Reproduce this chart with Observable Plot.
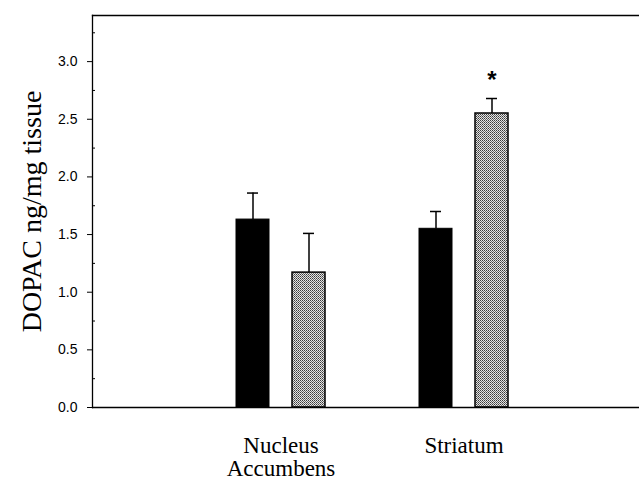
<!DOCTYPE html>
<html>
<head>
<meta charset="utf-8">
<script src="https://cdn.jsdelivr.net/npm/d3@7"></script>
<script src="https://cdn.jsdelivr.net/npm/@observablehq/plot@0.6"></script>
<style>
  html, body { margin: 0; padding: 0; background: #fff; }
</style>
</head>
<body>
<div id="chart"></div>
<script>
// ---- data ----
const regions = ["Nucleus Accumbens", "Striatum"];
const regionLabels = ["Nucleus\nAccumbens", "Striatum"];
const controlMean = [1.63, 1.55];
const controlSem = [0.23, 0.15];
const treatedMean = [1.17, 2.55];
const treatedSem = [0.34, 0.13];
const significant = [false, true];
const yMajorTicks = [0, 0.5, 1.0, 1.5, 2.0, 2.5, 3.0];
const yMinorTicks = [0.25, 0.75, 1.25, 1.75, 2.25, 2.75, 3.25];
const yDomain = [0, 3.4];
const yLabel = "DOPAC ng/mg tissue";

const control = regions.map((r, i) => ({region: r, mean: controlMean[i], top: controlMean[i] + controlSem[i]}));
const treated = regions.map((r, i) => ({region: r, mean: treatedMean[i], top: treatedMean[i] + treatedSem[i], sig: significant[i]}));
const labelOf = new Map(regions.map((r, i) => [r, regionLabels[i]]));

const serif = "Liberation Serif, Times New Roman, serif";
const sans = "Liberation Sans, Arial, sans-serif";

const plot = Plot.plot({
  width: 639,
  height: 481,
  marginLeft: 92,
  marginRight: 0,
  marginTop: 15,
  marginBottom: 74,
  style: {fontFamily: sans, color: "#000", background: "#fff"},
  x: {domain: regions, paddingInner: 0.293, paddingOuter: 0.633, align: 0.528, axis: null},
  y: {domain: yDomain, axis: null},
  marks: [
    Plot.frame({anchor: "left", stroke: "#000", strokeWidth: 1.3}),
    Plot.frame({anchor: "top", stroke: "#000", strokeWidth: 1.3}),
    // bars
    Plot.barY(control, {x: "region", y: "mean", fill: "#000", stroke: "#000", strokeWidth: 1, insetLeft: 20, insetRight: 76}),
    Plot.barY(treated, {x: "region", y: "mean", fill: "url(#stipple)", stroke: "#000", strokeWidth: 1.5, insetLeft: 76, insetRight: 20}),
    // error bars
    Plot.ruleX(control, {x: "region", y1: "mean", y2: "top", dx: -28, stroke: "#000", strokeWidth: 1.5}),
    Plot.ruleX(treated, {x: "region", y1: "mean", y2: "top", dx: 28, stroke: "#000", strokeWidth: 1.5}),
    Plot.tickY(control, {x: "region", y: "top", insetLeft: 31, insetRight: 87, stroke: "#000", strokeWidth: 1.5}),
    Plot.tickY(treated, {x: "region", y: "top", insetLeft: 87, insetRight: 31, stroke: "#000", strokeWidth: 1.5}),
    // significance marker
    Plot.text(treated.filter(d => d.sig), {x: "region", y: "top", text: () => "*", dx: 28, dy: -18, fontSize: 24, fontWeight: "bold", fontFamily: sans, fill: "#000"}),
    // baseline
    Plot.ruleY([0], {stroke: "#000", strokeWidth: 1.3}),
    // y axis ticks
    Plot.axisY({ticks: yMajorTicks, tickSize: 5, tickFormat: () => "", label: null, stroke: "#000"}),
    Plot.axisY({ticks: yMinorTicks, tickSize: 3, dx: 3, tickFormat: () => "", label: null, stroke: "#000"}),
    // y tick labels
    Plot.text(yMajorTicks, {y: d => d, frameAnchor: "left", dx: -15, textAnchor: "end", lineAnchor: "middle", text: d3.format(".1f"), fontSize: 14, fontFamily: sans, fill: "#000"}),
    // x category labels
    Plot.text(regions, {x: d => d, frameAnchor: "bottom", dy: 29, lineAnchor: "top", text: d => labelOf.get(d), fontSize: 23, fontFamily: serif, lineHeight: 1.0, fill: "#000"}),
    // y label
    Plot.text([yLabel], {frameAnchor: "left", dx: -60, rotate: -90, text: d => d, fontSize: 28, fontFamily: serif, textAnchor: "middle", lineAnchor: "middle", fill: "#000"})
  ]
});

const ns = "http://www.w3.org/2000/svg";
const defs = document.createElementNS(ns, "defs");
defs.innerHTML = '<pattern id="stipple" width="2" height="2" patternUnits="userSpaceOnUse">' +
  '<rect width="2" height="2" fill="#e4e4e4"/><rect width="1" height="1" fill="#3a3a3a"/><rect x="1" y="1" width="1" height="1" fill="#6a6a6a"/></pattern>';
plot.insertBefore(defs, plot.firstChild);
document.getElementById("chart").appendChild(plot);
</script>
</body>
</html>
